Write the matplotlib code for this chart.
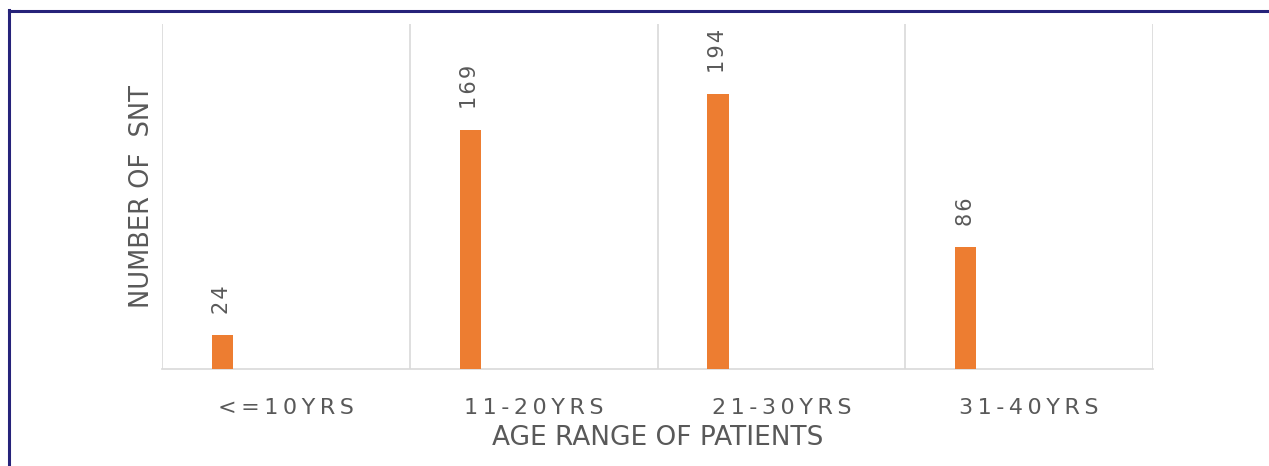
import matplotlib.pyplot as plt
from matplotlib.lines import Line2D
import numpy as np

# data
age_ranges = ['<=10YRS', '11-20YRS', '21-30YRS', '31-40YRS']
snt_counts = [24, 169, 194, 86]

bar_color = '#ED7D31'
text_color = '#595959'
grid_color = '#D9D9D9'
border_color = '#26237A'


def spaced(s, sep='\u2009'):
    # widen the labels a bit, like the letter-spaced originals
    return sep.join(s)


fig = plt.figure(figsize=(12.69, 4.66), dpi=100)
ax = fig.add_axes([0.1277, 0.2082, 0.9086 - 0.1277, 0.9485 - 0.2082])

x = np.arange(len(age_ranges))
bars = ax.bar(x - 0.256, snt_counts, width=0.085, color=bar_color, zorder=3)

for rect, v in zip(bars, snt_counts):
    ax.annotate(spaced(str(v), '\u200a'),
                (rect.get_x() + rect.get_width() / 2, rect.get_height()),
                xytext=(0, 15), textcoords='offset points', rotation=90,
                ha='center', va='bottom', fontsize=15, color=text_color)

ax.set_xlim(-0.5, len(age_ranges) - 0.5)
ax.set_ylim(0, 243.5)

ax.set_xticks(x)
ax.set_xticklabels([spaced(a) for a in age_ranges], fontsize=16, color=text_color)
ax.set_xticks(np.arange(-0.5, len(age_ranges)), minor=True)
ax.tick_params(axis='x', which='both', length=0, pad=21)
ax.set_yticks([])
ax.grid(axis='x', which='minor', color=grid_color, lw=1.2)

for side in ['top', 'right', 'left']:
    ax.spines[side].set_visible(False)
ax.spines['bottom'].set_color(grid_color)
ax.spines['bottom'].set_linewidth(1.2)

ax.set_xlabel('AGE RANGE OF PATIENTS', fontsize=19, color=text_color, labelpad=5)
ax.set_ylabel('NUMBER OF  SNT', fontsize=18.5, color=text_color, labelpad=5)

# frame lines on the left and top of the image
fig.add_artist(Line2D([9 / 1269, 9 / 1269], [0, 1 - 10 / 466],
                      color=border_color, lw=2.2))
fig.add_artist(Line2D([9 / 1269, 1], [1 - 11 / 466, 1 - 11 / 466],
                      color=border_color, lw=2.2))

plt.savefig('out.png', dpi=100)
